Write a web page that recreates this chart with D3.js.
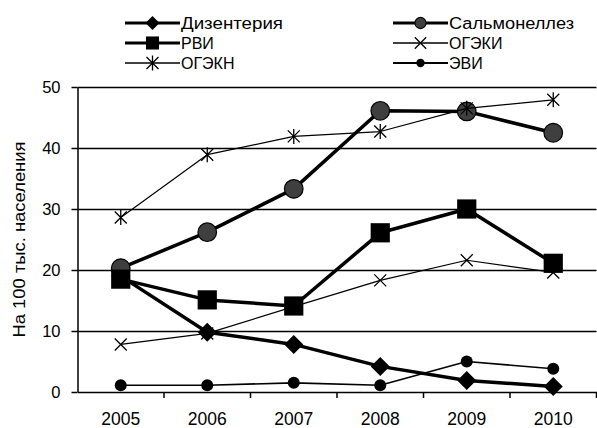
<!DOCTYPE html>
<html><head><meta charset="utf-8">
<script src="https://cdn.jsdelivr.net/npm/d3@7"></script>
<style>
body{margin:0;background:#fff;}
text{font-family:"Liberation Sans",Arial,sans-serif;}
</style></head>
<body><svg id="c" width="597" height="428"></svg>
<script>
const years = ["2005","2006","2007","2008","2009","2010"];
const yTicks = [0,10,20,30,40,50];
const yTitle = "На 100 тыс. населения";
const seriesNames = ["Дизентерия","Сальмонеллез","РВИ","ОГЭКИ","ОГЭКН","ЭВИ"];
const dysentery   = [19.0, 9.8, 7.8, 4.2, 1.9, 0.9];
const salmonella  = [20.3, 26.2, 33.3, 46.1, 46.0, 42.5];
const rvi         = [18.5, 15.1, 14.1, 26.1, 30.0, 21.1];
const ogeki       = [7.8, 9.6, 14.0, 18.3, 21.6, 19.6];
const ogekn       = [28.6, 38.9, 41.9, 42.7, 46.5, 47.9];
const evi         = [1.1, 1.1, 1.5, 1.1, 5.0, 3.8];

const series = [
  {name:seriesNames[0], values:dysentery,  marker:"diamond"},
  {name:seriesNames[1], values:salmonella, marker:"bigcircle"},
  {name:seriesNames[2], values:rvi,        marker:"square"},
  {name:seriesNames[3], values:ogeki,      marker:"x"},
  {name:seriesNames[4], values:ogekn,      marker:"star"},
  {name:seriesNames[5], values:evi,        marker:"dot"}
];
// styling (not data)
const style = {
  diamond:  {w:3.5, lw:3,   legScale:0.74},
  bigcircle:{w:3.5, lw:3,   legScale:0.6},
  square:   {w:3.5, lw:3,   legScale:0.68},
  x:        {w:1.2, lw:1.3, legScale:0.95},
  star:     {w:1.2, lw:1.3, legScale:1.0},
  dot:      {w:1.6, lw:2,   legScale:0.7}
};
const legendTextLen = {0:102, 1:125};

const svg = d3.select("#c");
const pL = 77.5, pR = 596.5, pT = 87, pB = 392;
const x = d3.scaleBand().domain(years).range([pL, pR]);
const y = d3.scaleLinear().domain([0,50]).range([pB, pT]);
const cx = d => x(d) + x.bandwidth()/2;
const FF = "Liberation Sans, Arial, sans-serif";

// gridlines
svg.append("g").attr("transform",`translate(${pL},0)`)
  .call(d3.axisLeft(y).tickValues(yTicks.slice(1)).tickSize(-(pR-pL)).tickFormat(""))
  .call(g=>g.select(".domain").remove())
  .call(g=>g.selectAll("line").attr("stroke","#000").attr("stroke-width",1.3));

// y axis
svg.append("g").attr("transform",`translate(${pL},0)`)
  .call(d3.axisLeft(y).tickValues(yTicks).tickSize(6).tickSizeOuter(0).tickPadding(11))
  .call(g=>g.select(".domain").attr("stroke","#000").attr("stroke-width",1.5))
  .call(g=>g.selectAll("line").attr("stroke","#000").attr("stroke-width",1.5))
  .call(g=>g.selectAll("text").attr("font-size",16.5).attr("fill","#000").attr("font-family",FF));

// x axis
const xg = svg.append("g").attr("transform",`translate(0,${pB})`)
  .call(d3.axisBottom(x).tickSize(0).tickSizeOuter(0).tickPadding(21))
  .call(g=>g.select(".domain").attr("stroke","#000").attr("stroke-width",1.5))
  .call(g=>g.selectAll("text").attr("font-size",17.5).attr("fill","#000").attr("font-family",FF));
const bounds = years.map(d => x(d) + x.bandwidth());
xg.selectAll("line.tk").data(bounds).enter().append("line").attr("class","tk")
  .attr("x1",d=>d).attr("x2",d=>d).attr("y1",0).attr("y2",6)
  .attr("stroke","#000").attr("stroke-width",1.5);

// y title
svg.append("text").attr("transform",`translate(25,${(pT+pB)/2}) rotate(-90)`)
  .attr("text-anchor","middle").attr("font-size",16)
  .attr("textLength",196).attr("lengthAdjust","spacingAndGlyphs").text(yTitle);

function drawMarker(g, type, s){
  s = s || 1;
  if(type==="diamond"){
    const r=9.5*s;
    g.append("path").attr("d",`M0,${-r}L${r},0L0,${r}L${-r},0Z`).attr("fill","#000");
  } else if(type==="square"){
    const r=9.6*s;
    g.append("rect").attr("x",-r).attr("y",-r).attr("width",2*r).attr("height",2*r).attr("fill","#000");
  } else if(type==="bigcircle"){
    g.append("circle").attr("r",9.3*s).attr("fill","#3f3f3f").attr("stroke","#000").attr("stroke-width",1.2);
  } else if(type==="dot"){
    g.append("circle").attr("r",6*s).attr("fill","#000");
  } else if(type==="x"){
    const r=6*s;
    g.append("path").attr("d",`M${-r},${-r}L${r},${r}M${r},${-r}L${-r},${r}`).attr("stroke","#000").attr("stroke-width",1.3);
  } else if(type==="star"){
    const r=6*s;
    g.append("path").attr("d",`M${-r},${-r}L${r},${r}M${r},${-r}L${-r},${r}M0,${-r*1.25}L0,${r*1.25}`).attr("stroke","#000").attr("stroke-width",1.3);
  }
}

const line = d3.line().x((d,i)=>cx(years[i])).y(d=>y(d));
series.forEach(s=>{
  const st = style[s.marker];
  const g = svg.append("g");
  g.append("path").attr("d", line(s.values)).attr("fill","none").attr("stroke","#000")
    .attr("stroke-width", st.w).attr("stroke-linejoin","round");
  s.values.forEach((v,i)=>{
    const mg = g.append("g").attr("transform",`translate(${cx(years[i])},${y(v)})`);
    drawMarker(mg, s.marker, 1);
  });
});

// legend
const legPos = [[125,23],[393,23],[125,43],[393,43],[125,63],[393,63]];
series.forEach((s,i)=>{
  const st = style[s.marker];
  const [lx,ly] = legPos[i];
  const g = svg.append("g").attr("transform",`translate(${lx},${ly})`);
  g.append("line").attr("x1",0).attr("x2",55).attr("y1",0).attr("y2",0)
    .attr("stroke","#000").attr("stroke-width", st.lw);
  const mg = g.append("g").attr("transform","translate(27.5,0)");
  drawMarker(mg, s.marker, st.legScale);
  const t = g.append("text").attr("x",56).attr("y",0).attr("dy","0.36em").attr("font-size",16).text(s.name);
  if(legendTextLen[i]) t.attr("textLength",legendTextLen[i]).attr("lengthAdjust","spacingAndGlyphs");
});
</script></body></html>
